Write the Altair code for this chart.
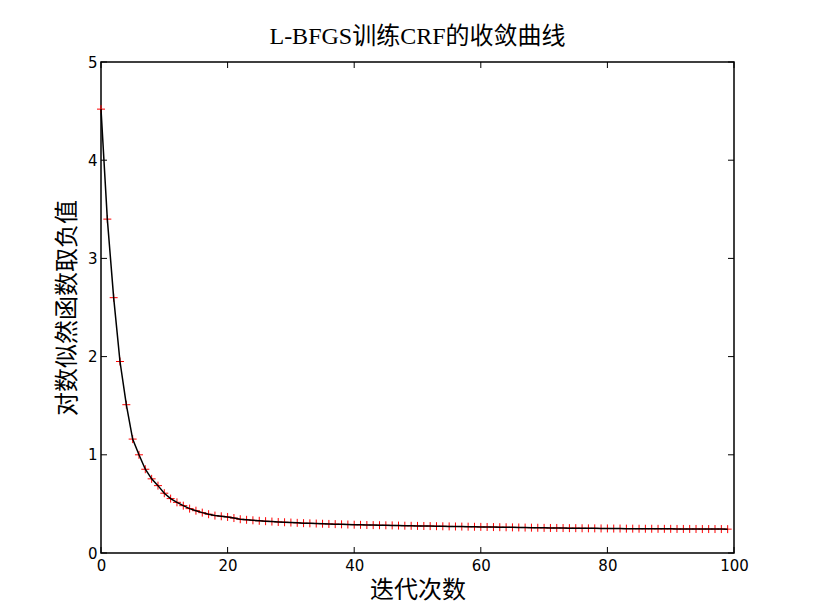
import altair as alt
import pandas as pd

iterations = list(range(100))
neg_loglik = [
    4.52, 3.40, 2.60, 1.95, 1.51, 1.16, 1.00, 0.853, 0.755, 0.686,
    0.609, 0.554, 0.516, 0.482, 0.452, 0.431, 0.411, 0.395, 0.381, 0.374,
    0.367, 0.356, 0.344, 0.338, 0.333, 0.328, 0.324, 0.320, 0.316, 0.313,
    0.310, 0.307, 0.304, 0.302, 0.300, 0.298, 0.296, 0.294, 0.292, 0.290,
    0.288, 0.287, 0.285, 0.284, 0.283, 0.282, 0.281, 0.279, 0.278, 0.277,
    0.276, 0.275, 0.274, 0.273, 0.272, 0.271, 0.270, 0.269, 0.268, 0.267,
    0.266, 0.265, 0.264, 0.263, 0.262, 0.261, 0.260, 0.259, 0.258, 0.257,
    0.256, 0.255, 0.255, 0.254, 0.253, 0.253, 0.252, 0.251, 0.251, 0.250,
    0.250, 0.249, 0.249, 0.248, 0.248, 0.247, 0.247, 0.247, 0.246, 0.246,
    0.246, 0.245, 0.245, 0.245, 0.245, 0.244, 0.244, 0.244, 0.244, 0.243,
]
x_ticks = [0, 20, 40, 60, 80, 100]
y_ticks = [0, 1, 2, 3, 4, 5]

W, H = 633, 491
CJK = "Noto Sans CJK SC"

df = pd.DataFrame({"iter": iterations, "nll": neg_loglik})
dfx = pd.DataFrame({"iter": x_ticks})
dfy = pd.DataFrame({"nll": y_ticks})

x_enc = alt.X(
    "iter:Q",
    scale=alt.Scale(domain=[0, 100], nice=False, zero=False),
    axis=alt.Axis(
        values=x_ticks, title="迭代次数", titleFont=CJK, titleFontSize=24,
        titleFontWeight="normal", titleColor="black",
        titleX=W / 2, titleY=37, titleBaseline="middle", titleAlign="center",
        labelPadding=5, labelFlush=False,
    ),
)
y_enc = alt.Y(
    "nll:Q",
    scale=alt.Scale(domain=[0, 5], nice=False, zero=False),
    axis=alt.Axis(
        values=y_ticks, title="对数似然函数取负值", titleFont=CJK, titleFontSize=24,
        titleFontWeight="normal", titleColor="black",
        titleX=-34, titleY=H / 2, titleAngle=270, titleBaseline="middle",
        titleAlign="center", labelPadding=4, labelFlush=False,
    ),
)

points = alt.Chart(df).mark_point(
    shape="M-1,0L1,0M0,-1L0,1", filled=False, color="red", size=64,
    strokeWidth=1, opacity=1,
).encode(x=x_enc, y=y_enc)

line = alt.Chart(df).mark_line(color="black", strokeWidth=1.5).encode(x=x_enc, y=y_enc)

xt_bottom = alt.Chart(dfx).mark_rule(color="black", strokeWidth=1).encode(
    x=x_enc, y=alt.value(H), y2=alt.value(H - 6))
xt_top = alt.Chart(dfx).mark_rule(color="black", strokeWidth=1).encode(
    x=x_enc, y=alt.value(0), y2=alt.value(6))
yt_left = alt.Chart(dfy).mark_rule(color="black", strokeWidth=1).encode(
    y=y_enc, x=alt.value(0), x2=alt.value(6))
yt_right = alt.Chart(dfy).mark_rule(color="black", strokeWidth=1).encode(
    y=y_enc, x=alt.value(W), x2=alt.value(W - 6))

chart = alt.layer(points, line, xt_bottom, xt_top, yt_left, yt_right).properties(
    width=W,
    height=H,
    title=alt.TitleParams(
        "L-BFGS训练CRF的收敛曲线",
        font=f"Liberation Serif, {CJK}",
        fontSize=24, fontWeight="normal", color="black",
        anchor="middle", baseline="alphabetic", frame="group", offset=15, dy=28,
    ),
    autosize=alt.AutoSizeParams(type="none"),
    padding={"left": 93, "top": 54, "right": 60, "bottom": 50},
    background="white",
).configure_view(
    stroke="black", strokeWidth=1.5
).configure_axis(
    domain=False, grid=False, ticks=False,
    labelFont="DejaVu Sans", labelFontSize=15, labelColor="black",
)

chart.save("out.html", embed_options={"renderer": "svg", "actions": False})
